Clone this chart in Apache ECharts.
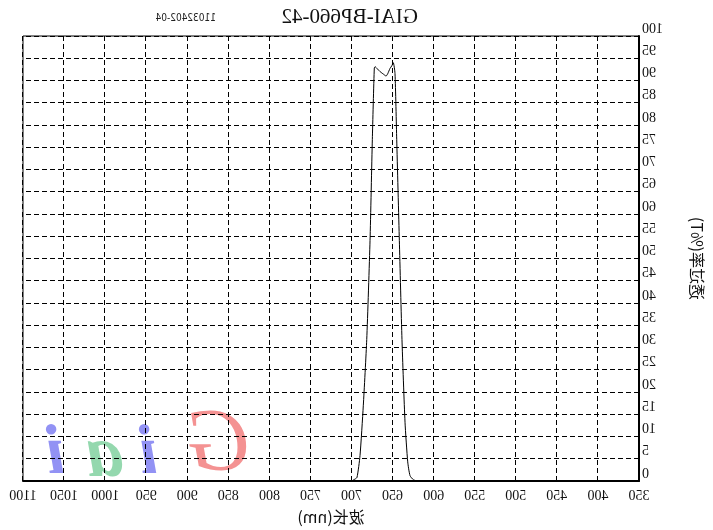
<!DOCTYPE html>
<html>
<head>
<meta charset="utf-8">
<script src="https://cdn.jsdelivr.net/npm/echarts@6/dist/echarts.min.js"></script>
<style>
html,body{margin:0;padding:0;background:#fff;}
#main{width:713px;height:530px;transform:scaleX(-1);}
</style>
</head>
<body>
<div id="main"></div>
<script>
// Data (wavelength in nm, transmittance in %T)
const wavelengths = [350, 500, 600, 620, 624.8, 628.8, 631.6, 634.9, 638.6, 641.8, 645, 647.1, 649.2, 651, 653.2, 656, 658, 661, 665.3, 668.5, 671.4, 672.3, 674.7, 677.5, 681.5, 685.7, 689.7, 693.4, 697, 700, 800, 1100];
const transmittance = [0, 0, 0, 0, 0.3, 1.2, 4.3, 13.2, 31.8, 54, 76.7, 91.6, 94.0, 93.3, 92.7, 91.5, 91.0, 91.4, 92.0, 92.6, 93.1, 92.8, 76.7, 54, 31.8, 16.9, 5.7, 0.8, 0.3, 0, 0, 0];
const titleText = 'GIAI-BP660-42';
const subText = '11032402-04';
const xName = '波长(nm)';
const yName = '透过率(%T)';
const xMin = 350, xMax = 1100, xStep = 50;
const yMin = 0, yMax = 100, yStep = 5;

const chart = echarts.init(document.getElementById('main'));
const serif = "'Liberation Serif', 'Times New Roman', serif";
chart.setOption({
  animation: false,
  backgroundColor: '#fff',
  title: {
    text: titleText,
    left: 290,
    top: 2,
    textStyle: {fontFamily: serif, fontSize: 21, fontWeight: 'normal', color: '#111'}
  },
  grid: {left: 74, right: 23, top: 36, bottom: 48, show: true, borderColor: '#000', borderWidth: 1, backgroundColor: 'transparent'},
  graphic: [
    {type: 'text', left: 497, top: 13, z: 10, style: {text: subText, font: "10px 'DejaVu Sans Condensed', 'Liberation Sans Narrow', sans-serif", fill: '#222'}},
    {type: 'group', z: -10, children: [
      {type: 'text', x: 462, y: 402, z: -10, style: {text: 'G', font: "italic 88px 'Liberation Serif', serif", fill: 'rgba(240,100,100,0.7)'}},
      {type: 'text', x: 555, y: 420, z: -10, style: {text: 'i', font: "italic bold 70px 'Liberation Serif', serif", fill: 'rgba(100,100,240,0.7)'}},
      {type: 'text', x: 590, y: 420, z: -10, style: {text: 'a', font: "italic bold 74px 'Liberation Serif', serif", fill: 'rgba(90,195,130,0.65)'}},
      {type: 'text', x: 648, y: 420, z: -10, style: {text: 'i', font: "italic bold 70px 'Liberation Serif', serif", fill: 'rgba(100,100,240,0.7)'}}
    ]}
  ],
  xAxis: {
    type: 'value', min: xMin, max: xMax, interval: xStep,
    name: xName, nameLocation: 'middle', nameGap: 28,
    nameTextStyle: {fontFamily: "'Noto Sans CJK SC', serif", fontSize: 16, color: '#111'},
    axisLine: {lineStyle: {color: '#000', width: 2}},
    axisTick: {show: false},
    axisLabel: {fontFamily: serif, fontSize: 14, color: '#111', margin: 8, formatter: v => String(v)},
    splitLine: {show: true, lineStyle: {color: '#000', type: [5, 3], width: 1}}
  },
  yAxis: {
    type: 'value', min: yMin, max: yMax, interval: yStep,
    name: yName, nameLocation: 'middle', nameGap: 50,
    nameTextStyle: {fontFamily: "'Noto Sans CJK SC', serif", fontSize: 16, color: '#111'},
    axisLine: {show: true, lineStyle: {color: '#000', width: 2}},
    axisTick: {show: false},
    axisLabel: {fontFamily: serif, fontSize: 14, color: '#111', margin: 3, verticalAlign: 'bottom', formatter: v => String(v)},
    splitLine: {show: true, lineStyle: {color: '#000', type: [5, 3], width: 1}}
  },
  series: [{
    type: 'line',
    data: wavelengths.map((w, i) => [w, transmittance[i]]),
    symbol: 'none',
    smooth: 0.2,
    lineStyle: {color: '#000', width: 1},
    z: 5
  }]
});
</script>
</body>
</html>
